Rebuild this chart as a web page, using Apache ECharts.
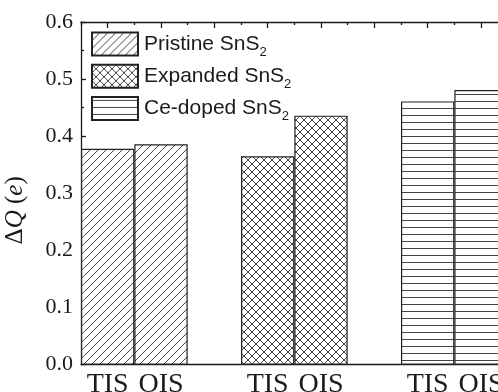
<!DOCTYPE html>
<html>
<head>
<meta charset="utf-8">
<script src="https://cdn.jsdelivr.net/npm/echarts@6/dist/echarts.min.js"></script>
<style>
  html, body { margin: 0; padding: 0; background: #fff; }
  #chart { width: 498px; height: 392px; }
</style>
</head>
<body>
<div id="chart"></div>
<script>
// Charge transfer per site for the three SnS2 models
const categories = ['TIS', 'OIS', '', 'TIS', 'OIS', '', 'TIS', 'OIS', ''];
const sampleNames = ['Pristine SnS', 'Expanded SnS', 'Ce-doped SnS'];
const pristine = [0.378, 0.386];   // TIS, OIS
const expanded = [0.365, 0.436];
const ceDoped  = [0.461, 0.481];
const groupStart = [0, 3, 6];      // first category slot of each group
const yTicks = [0, 0.6, 0.1];      // min, max, step

const serif = 'Liberation Serif';
const sans = 'Liberation Sans';
const ink = '#1a1a1a';

// hatch fills drawn into small tiles
function tile(w, h, draw) {
  const c = document.createElement('canvas');
  c.width = w; c.height = h;
  const g = c.getContext('2d');
  g.fillStyle = '#ffffff';
  g.fillRect(0, 0, w, h);
  g.strokeStyle = '#444444';
  g.lineWidth = 1;
  draw(g, w, h);
  return { image: c, repeat: 'repeat' };
}
function forward(g, s) {
  g.beginPath();
  g.moveTo(-1, s + 1); g.lineTo(s + 1, -1);
  g.moveTo(-1, 1); g.lineTo(1, -1);
  g.moveTo(s - 1, s + 1); g.lineTo(s + 1, s - 1);
  g.stroke();
}
function backward(g, s) {
  g.beginPath();
  g.moveTo(-1, -1); g.lineTo(s + 1, s + 1);
  g.moveTo(s - 1, -1); g.lineTo(s + 1, 1);
  g.moveTo(-1, s - 1); g.lineTo(1, s + 1);
  g.stroke();
}
const fills = [
  tile(8, 8, (g, w) => forward(g, w)),
  tile(8, 8, (g, w) => { forward(g, w); backward(g, w); }),
  tile(7, 7, (g, w, h) => { g.beginPath(); g.moveTo(0, 3.5); g.lineTo(w, 3.5); g.stroke(); })
];

function slotData(values, start) {
  const arr = categories.map(() => '-');
  values.forEach((v, i) => { arr[start + i] = v; });
  return arr;
}

const groups = [pristine, expanded, ceDoped];
const series = groups.map((vals, k) => ({
  name: sampleNames[k] + '2',
  type: 'bar',
  xAxisIndex: 0,
  barWidth: '100%',
  barGap: '-100%',
  data: slotData(vals, groupStart[k]),
  itemStyle: { color: fills[k], borderColor: '#222', borderWidth: 1.2 },
  emphasis: { disabled: true },
  animation: false
}));

const chart = echarts.init(document.getElementById('chart'), null, { renderer: 'canvas' });
chart.setOption({
  animation: false,
  backgroundColor: '#ffffff',
  grid: { left: 81, top: 22, width: 480, height: 342.7, containLabel: false, outerBoundsMode: 'none' },
  legend: {
    orient: 'vertical',
    left: 91,
    top: 31.5,
    padding: 0,
    itemWidth: 46,
    itemHeight: 23,
    itemGap: 5.2,
    icon: 'rect',
    selectedMode: false,
    data: series.map(s => s.name),
    formatter: name => '{a|' + name.slice(0, -1) + '}{b|' + name.slice(-1) + '}',
    textStyle: {
      color: ink,
      rich: {
        a: { fontFamily: sans, fontSize: 21, color: ink, padding: [0, 0, 0, 1] },
        b: { fontFamily: sans, fontSize: 13, color: ink, padding: [16, 0, 0, 0] }
      }
    }
  },
  xAxis: [
    {
      type: 'category',
      data: categories,
      position: 'bottom',
      axisLine: { show: true, lineStyle: { color: ink, width: 1.3 } },
      axisTick: { show: false },
      axisLabel: { interval: 0, margin: 6, fontFamily: serif, fontSize: 28, color: ink }
    },
    {
      type: 'category',
      data: categories,
      position: 'top',
      axisLine: { show: true, lineStyle: { color: ink, width: 1.3 } },
      axisTick: { show: true, inside: true, alignWithLabel: true, interval: 0, length: 6, lineStyle: { color: ink, width: 1.3 } },
      axisLabel: { show: false }
    },
    {
      type: 'category',
      data: categories,
      position: 'top',
      axisLine: { show: false },
      axisTick: { show: true, inside: true, interval: 0, length: 3, lineStyle: { color: ink, width: 1.3 } },
      axisLabel: { show: false }
    }
  ],
  yAxis: {
    type: 'value',
    min: yTicks[0],
    max: yTicks[1],
    interval: yTicks[2],
    name: '{n|Δ}{i|Q}{n| (}{i|e}{n|)}',
    nameLocation: 'middle',
    nameRotate: 90,
    nameGap: 53,
    nameTextStyle: {
      padding: [0, 34, 0, 0],
      rich: {
        n: { fontFamily: serif, fontSize: 25, color: ink },
        i: { fontFamily: serif, fontSize: 25, fontStyle: 'italic', color: ink }
      }
    },
    axisLine: { show: true, lineStyle: { color: ink, width: 1.3 } },
    axisTick: { show: true, inside: true, length: 5, lineStyle: { color: ink, width: 1.3 } },
    minorTick: { show: true, splitNumber: 2, length: 3, lineStyle: { color: ink, width: 1.3 } },
    splitLine: { show: false },
    axisLabel: {
      margin: 8,
      fontFamily: serif,
      fontSize: 22,
      color: ink,
      formatter: v => v.toFixed(1)
    }
  },
  series: series
});
</script>
</body>
</html>
